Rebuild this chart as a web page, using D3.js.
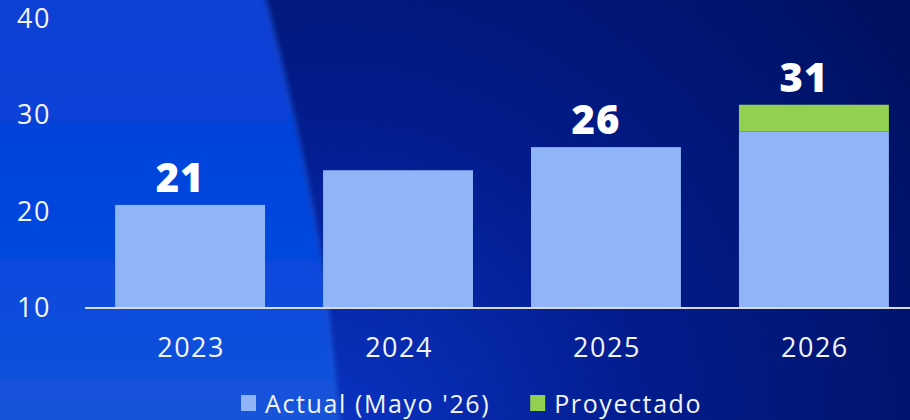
<!DOCTYPE html>
<html>
<head>
<meta charset="utf-8">
<script src="https://cdn.jsdelivr.net/npm/d3@7"></script>
<style>
  html, body { margin: 0; padding: 0; background: #0a3ed4; }
  svg { display: block; }
</style>
</head>
<body>
<div id="chart"></div>
<script>
"use strict";

// values
var years = ["2023", "2024", "2025", "2026"];
var actual = [20.7, 24.3, 26.7, 28.3];
var projected = [0, 0, 0, 2.8];
var labels = ["21", "", "26", "31"];
var yTicks = [10, 20, 30, 40];
var legendNames = ["Actual (Mayo '26)", "Proyectado"];
var legendColors = ["#8fb4f8", "#92d050"];

var width = 910;
var height = 420;
var textFont = '"Open Sans", sans-serif';

var svg = d3.select('#chart').append('svg')
  .attr('width', width)
  .attr('height', height);

// background: bright blue swoosh on the left, deep navy on the right
var defs = svg.append('defs');
var gLeft = defs.append('linearGradient').attr('id', 'leftGrad')
  .attr('x1', 0).attr('y1', 0).attr('x2', 0).attr('y2', 1);
gLeft.append('stop').attr('offset', '0%').attr('stop-color', '#0a3ed2');
gLeft.append('stop').attr('offset', '55%').attr('stop-color', '#0446de');
gLeft.append('stop').attr('offset', '100%').attr('stop-color', '#1958d8');

var gRight = defs.append('radialGradient').attr('id', 'rightGrad')
  .attr('gradientUnits', 'userSpaceOnUse')
  .attr('cx', 330).attr('cy', 440).attr('r', 720);
gRight.append('stop').attr('offset', '0%').attr('stop-color', '#0a34c4');
gRight.append('stop').attr('offset', '45%').attr('stop-color', '#021c8c');
gRight.append('stop').attr('offset', '100%').attr('stop-color', '#00105e');

defs.append('filter').attr('id', 'soft')
  .attr('x', '-20%').attr('y', '-20%').attr('width', '140%').attr('height', '140%')
  .append('feGaussianBlur').attr('stdDeviation', 2.5);

svg.append('rect')
  .attr('width', width).attr('height', height)
  .attr('fill', 'url(#rightGrad)');

svg.append('path')
  .attr('d', 'M-40,-40 L255,-40 C290,90 318,220 328,310 C333,360 338,400 342,460 L-40,460 Z')
  .attr('fill', 'url(#leftGrad)')
  .attr('filter', 'url(#soft)');

svg.append('path')
  .attr('d', 'M266,0 C290,90 318,220 328,310 C333,360 338,400 340,420')
  .attr('fill', 'none')
  .attr('stroke', '#4f8ff0')
  .attr('stroke-opacity', 0.3)
  .attr('stroke-width', 2)
  .attr('filter', 'url(#soft)');

// scales
var x = d3.scaleBand()
  .domain(years)
  .range([86, 918])
  .paddingInner(0.279)
  .paddingOuter(0.14);

var y = d3.scaleLinear()
  .domain([10, 40])
  .range([308, 19]);

// y tick labels
var yAxis = d3.axisLeft(y).tickValues(yTicks).tickSize(0).tickPadding(0);
var gy = svg.append('g')
  .attr('transform', 'translate(51,0)')
  .call(yAxis);
gy.select('.domain').remove();
gy.selectAll('text')
  .attr('fill', '#f2f4fb')
  .style('font-family', textFont)
  .style('font-size', '27px')
  .style('font-weight', 400)
  .style('letter-spacing', '1.5px');

// bars
var rows = years.map(function(d, i) {
  return { year: d, actual: actual[i], projected: projected[i], label: labels[i] };
});

svg.selectAll('.bar-actual')
  .data(rows).enter()
  .append('rect')
  .attr('class', 'bar-actual')
  .attr('x', function(d) { return x(d.year); })
  .attr('width', x.bandwidth())
  .attr('y', function(d) { return y(d.actual); })
  .attr('height', function(d) { return y(10) - y(d.actual); })
  .attr('fill', legendColors[0]);

svg.selectAll('.bar-proj')
  .data(rows.filter(function(d) { return d.projected > 0; })).enter()
  .append('rect')
  .attr('class', 'bar-proj')
  .attr('x', function(d) { return x(d.year); })
  .attr('width', x.bandwidth())
  .attr('y', function(d) { return y(d.actual + d.projected); })
  .attr('height', function(d) { return y(d.actual) - y(d.actual + d.projected); })
  .attr('fill', legendColors[1]);

// baseline
svg.append('line')
  .attr('x1', 85).attr('x2', width)
  .attr('y1', y(10)).attr('y2', y(10))
  .attr('stroke', '#d9d9d9')
  .attr('stroke-width', 2);

// x labels
var xAxis = d3.axisBottom(x).tickSize(0).tickPadding(0);
var gx = svg.append('g')
  .attr('transform', 'translate(0,' + y(10) + ')')
  .call(xAxis);
gx.select('.domain').remove();
gx.selectAll('text')
  .attr('y', 49)
  .attr('dy', 0)
  .attr('dx', 1)
  .attr('fill', '#f2f4fb')
  .style('font-family', textFont)
  .style('font-size', '27px')
  .style('font-weight', 400)
  .style('letter-spacing', '1.5px');

// value labels
svg.selectAll('.value')
  .data(rows.filter(function(d) { return d.label; })).enter()
  .append('text')
  .attr('class', 'value')
  .attr('x', function(d) { return x(d.year) + x.bandwidth() / 2 - 10; })
  .attr('y', function(d) { return y(d.actual + d.projected) - 13; })
  .attr('text-anchor', 'middle')
  .attr('fill', '#ffffff')
  .style('font-family', textFont)
  .style('font-size', '40px')
  .style('font-weight', 800)
  .style('letter-spacing', '1px')
  .text(function(d) { return d.label; });

// legend
var legend = svg.append('g').attr('class', 'legend');
var lx = 241;
legendNames.forEach(function(name, i) {
  legend.append('rect')
    .attr('x', lx).attr('y', 395)
    .attr('width', 15).attr('height', 16)
    .attr('fill', legendColors[i]);
  var t = legend.append('text')
    .attr('x', lx + 24).attr('y', 413)
    .attr('fill', '#f2f4fb')
    .style('font-family', textFont)
    .style('font-size', '25px')
    .style('font-weight', 400)
    .style('letter-spacing', '1.6px')
    .text(name);
  lx += 24 + t.node().getComputedTextLength() + 40;
});
</script>
</body>
</html>
